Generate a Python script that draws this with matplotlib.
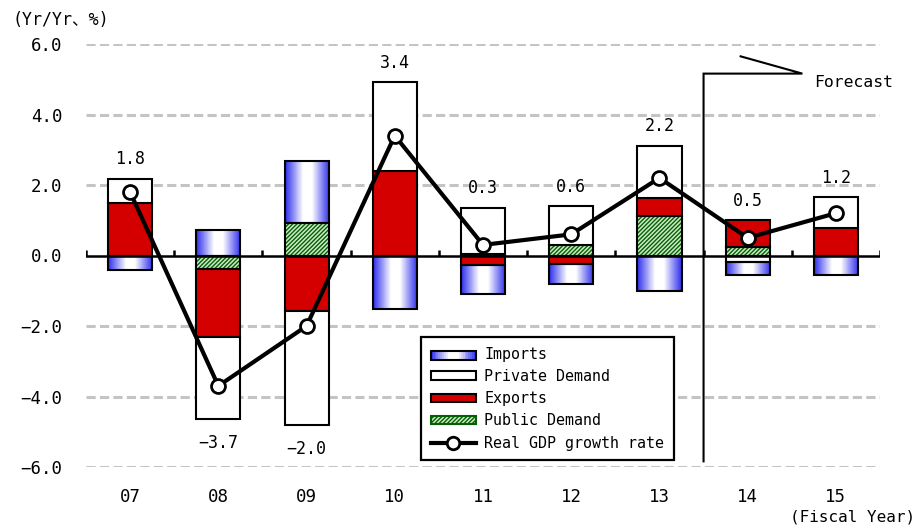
import numpy as np
import matplotlib.pyplot as plt
from matplotlib.colors import LinearSegmentedColormap
from matplotlib.lines import Line2D
from matplotlib.patches import Rectangle, Patch
from matplotlib.legend_handler import HandlerBase

plt.rcParams['font.family'] = ['DejaVu Sans Mono', 'Noto Sans CJK JP']
plt.rcParams['hatch.linewidth'] = 1.0

categories = ['07', '08', '09', '10', '11', '12', '13', '14', '15']
imports = [-0.40, 0.72, 1.77, -1.53, -0.80, -0.58, -1.01, -0.38, -0.55]
private_demand = [0.68, -2.34, -3.23, 2.53, 1.30, 1.09, 1.48, -0.18, 0.86]
exports = [1.50, -1.93, -1.58, 2.39, -0.28, -0.24, 0.53, 0.75, 0.79]
public_demand = [0.0, -0.38, 0.91, 0.0, 0.05, 0.31, 1.11, 0.25, 0.0]
gdp_growth = [1.8, -3.7, -2.0, 3.4, 0.3, 0.6, 2.2, 0.5, 1.2]
y_ticks = [-6, -4, -2, 0, 2, 4, 6]

BLUE = '#2f2fee'
RED = '#d40000'
HATCH_FACE = '#cfeac6'
HATCH_LINE = '#046004'
grad_cmap = LinearSegmentedColormap.from_list(
    'imp', [(0, BLUE), (0.4, 'white'), (0.6, 'white'), (1, BLUE)])


def fmt(v):
    return f'{v:.1f}'.replace('-', '\u2212')


class GradientHandler(HandlerBase):
    def create_artists(self, legend, orig, xd, yd, w, h, fs, trans):
        arts = []
        n = 24
        for i in range(n):
            c = grad_cmap((i + 0.5) / n)
            arts.append(Rectangle((xd + w * i / n, yd), w / n, h, facecolor=c,
                                  edgecolor='none', transform=trans))
        arts.append(Rectangle((xd, yd), w, h, fill=False, edgecolor='black',
                              linewidth=1.5, transform=trans))
        return arts


fig = plt.figure(figsize=(9.19, 5.28), dpi=100)
ax = fig.add_axes([86 / 919, 61 / 528, (880 - 86) / 919, (467 - 44) / 528])

x = np.arange(len(categories))
width = 0.5
pos = np.zeros(len(x))
neg = np.zeros(len(x))

# stacking order: public, exports, private, imports
for name, vals in [('public', public_demand), ('exports', exports),
                   ('private', private_demand), ('imports', imports)]:
    vals = np.array(vals)
    bottoms = np.where(vals >= 0, pos, neg)
    if name == 'public':
        ax.bar(x, vals, width, bottom=bottoms, facecolor=HATCH_FACE,
               edgecolor=HATCH_LINE, hatch='////////', linewidth=0, zorder=2)
        ax.bar(x, vals, width, bottom=bottoms, fill=False,
               edgecolor='black', linewidth=1.5, zorder=3)
    elif name == 'exports':
        ax.bar(x, vals, width, bottom=bottoms, color=RED,
               edgecolor='black', linewidth=1.5, zorder=3)
    elif name == 'private':
        ax.bar(x, vals, width, bottom=bottoms, color='white',
               edgecolor='black', linewidth=1.5, zorder=3)
    else:
        grad = np.linspace(0, 1, 64).reshape(1, -1)
        for xi, b, v in zip(x, bottoms, vals):
            if v == 0:
                continue
            ax.imshow(grad, extent=[xi - width / 2, xi + width / 2, b, b + v],
                      aspect='auto', cmap=grad_cmap, origin='lower', zorder=2)
        ax.bar(x, vals, width, bottom=bottoms, fill=False,
               edgecolor='black', linewidth=1.5, zorder=3)
    pos = np.where(vals >= 0, pos + vals, pos)
    neg = np.where(vals < 0, neg + vals, neg)

# gridlines
for yv in y_ticks:
    if yv != 0:
        ax.axhline(yv, color='#c4c4c4', linewidth=2.2, linestyle=(0, (3, 1.4)),
                   zorder=0)

# zero axis with small ticks at category boundaries
ax.axhline(0, color='black', linewidth=1.8, zorder=4)
ax.vlines(np.arange(-0.5, len(x)), 0, 0.15, color='black', linewidth=1.8, zorder=4)

# GDP growth line
ax.plot(x, gdp_growth, color='black', linewidth=3, marker='o', markersize=10,
        markerfacecolor='white', markeredgecolor='black', markeredgewidth=2,
        zorder=6)

for xi, g, p, n in zip(x, gdp_growth, pos, neg):
    if g >= 0:
        ax.annotate(fmt(g), (xi, p), xytext=(0, 14), textcoords='offset points',
                    ha='center', va='center', fontsize=12)
    else:
        ax.annotate(fmt(g), (xi, n), xytext=(0, -17), textcoords='offset points',
                    ha='center', va='center', fontsize=12)

# forecast marker
ax.plot([6.5, 6.5, 7.62, 6.92], [-5.84, 5.16, 5.16, 5.65], color='black',
        linewidth=1.5, zorder=5, solid_joinstyle='miter')
ax.text(7.75, 4.91, 'Forecast', fontsize=11.8, va='center', ha='left')

ax.set_xlim(-0.5, len(x) - 0.5)
ax.set_ylim(-6, 6)
ax.set_xticks(x)
ax.set_xticklabels(categories, fontsize=12.5)
ax.set_yticks(y_ticks)
ax.set_yticklabels([fmt(v) for v in y_ticks], fontsize=12.5)
ax.tick_params(axis='y', length=0, pad=17)
ax.tick_params(axis='x', length=0, pad=15)
for s in ax.spines.values():
    s.set_visible(False)

handles = [
    Patch(label='Imports'),
    Patch(facecolor='white', edgecolor='black', linewidth=1.5, label='Private Demand'),
    Patch(facecolor=RED, edgecolor='black', linewidth=1.5, label='Exports'),
    Patch(facecolor=HATCH_FACE, edgecolor=HATCH_LINE, hatch='////////', linewidth=1.5,
          label='Public Demand'),
    Line2D([0], [0], color='black', linewidth=3, marker='o', markersize=9,
           markerfacecolor='white', markeredgewidth=2, label='Real GDP growth rate'),
]
leg = fig.legend(handles=handles, loc='upper left',
                 bbox_to_anchor=(421 / 919, 1 - 337 / 528), fontsize=10.8,
                 handlelength=3.0, handleheight=0.5, handletextpad=0.55,
                 labelspacing=0.48, borderpad=0.65, borderaxespad=0,
                 fancybox=False, framealpha=1, edgecolor='black',
                 handler_map={handles[0]: GradientHandler()})
leg.get_frame().set_linewidth(1.6)

fig.text(12 / 919, 1 - 20 / 528, '(Yr/Yr、%)', fontsize=12, va='center', ha='left')
fig.text(915 / 919, 1 - 517 / 528, '(Fiscal Year)', fontsize=11.5, va='center', ha='right')

fig.savefig('out.png', dpi=100)
